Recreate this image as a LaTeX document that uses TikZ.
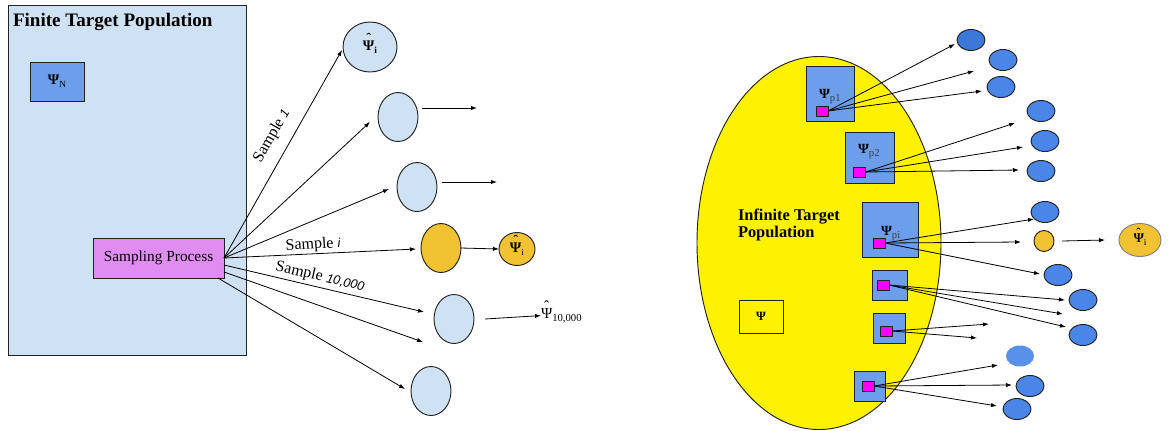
\documentclass[tikz,border=0pt]{standalone}
\usepackage{fontspec}
\setmainfont{Liberation Serif}
\newfontfamily\sansfam{Liberation Sans}
\usetikzlibrary{shapes.geometric,arrows.meta,calc}

\definecolor{paleblue}{HTML}{CFE2F3}
\definecolor{violetbox}{HTML}{E08CF1}
\definecolor{midblue}{HTML}{6D9EEB}
\definecolor{gold}{HTML}{F1C232}
\definecolor{dotblue}{HTML}{4A86E8}
\definecolor{dotblueD}{HTML}{3C78D8}
\definecolor{dotsoft}{HTML}{5990EA}
\definecolor{pink}{HTML}{FF00FF}
\definecolor{edge}{HTML}{222222}
\definecolor{subgray}{HTML}{404040}

% a symbol with a circumflex set above it
\newcommand\hatted[1]{\ooalign{#1\cr\hidewidth\raisebox{0.42em}{ˆ}\hidewidth\cr}}
% lowered small subscript text
\newcommand\subs[2][7]{\raisebox{-0.5ex}{\fontsize{#1}{#1}\selectfont #2}}
% "Sample" followed by an italic sans index
\newcommand\samp[1]{Sample\ {\sansfam\itshape\fontsize{9.5}{10}\selectfont #1}}

\tikzset{
  every node/.style={inner sep=0pt, outer sep=0pt},
  bd/.style={draw=edge, line width=0.7pt},
  arr/.style={-{Latex[length=4.5pt,width=3.2pt]}, line width=0.6pt, draw=black},
  paleell/.style={ellipse, bd, fill=paleblue, minimum width=30pt, minimum height=36.75pt},
  goldell/.style={ellipse, bd, fill=gold},
  dot/.style={ellipse, bd, fill=dotblue, minimum width=21pt, minimum height=15.75pt},
  sqbox/.style={rectangle, bd, fill=midblue},
  pinkbox/.style={rectangle, bd, fill=pink, minimum width=9pt, minimum height=7.5pt},
  samplab/.style={font=\fontsize{12}{14}\selectfont},
}

\begin{document}
\begin{tikzpicture}[x=0.75pt, y=-0.75pt]
\useasboundingbox (0,0) rectangle (1168,430);

% ---------------- finite population ----------------
\node[rectangle, bd, fill=paleblue, minimum width=178.5pt, minimum height=262.5pt, anchor=north west] (finite) at (8,5) {};
\node[anchor=base west, font=\bfseries\fontsize{14.3}{16}\selectfont] (ftitle) at (13,26) {Finite Target Population};
\node[sqbox, minimum width=40.5pt, minimum height=29.25pt, font=\fontsize{11}{13}\selectfont] (psiN) at (57,81.5) {{\bfseries Ψ}\subs{N}};
\node[rectangle, bd, fill=violetbox, minimum width=98.25pt, minimum height=30pt, font=\fontsize{11.5}{13}\selectfont] (sp) at (158.5,258) {Sampling Process};

% samples
\node[paleell, minimum width=40.5pt, minimum height=37.5pt, font=\fontsize{11}{13}\selectfont] (e1) at (370,47) {\hatted{\bfseries Ψ}\subs{\bfseries i}};
\node[paleell] (e2) at (398,117) {};
\node[paleell] (e3) at (417,187) {};
\node[goldell, minimum width=30pt, minimum height=36.75pt] (e4) at (441,248) {};
\node[goldell, minimum width=27pt, minimum height=24.75pt, font=\fontsize{11}{13}\selectfont] (e4est) at (517,249) {\hatted{\bfseries Ψ}\subs{i}};
\node[paleell] (e5) at (454,319) {};
\node[paleell] (e6) at (431,391) {};
\node[anchor=base west, font=\fontsize{11.5}{13}\selectfont] (e5est) at (541,318) {\hatted{Ψ}\subs[8]{10,000}};

% free ends of the sampling arrows
\coordinate (a1) at (342,50);
\coordinate (a2) at (370,122);
\coordinate (a3) at (389,189);
\coordinate (a4) at (416,249);
\coordinate (a5) at (424,312);
\coordinate (a6) at (423,342);
\coordinate (a7) at (405,389);
\coordinate (b2) at (477,108);
\coordinate (b3) at (497,182);

\draw[arr] (sp.east) -- (a1);
\draw[arr] (sp.east) -- (a2);
\draw[arr] (sp.east) -- (a3);
\draw[arr] (sp.east) -- (a4);
\draw[arr] ($(sp.east)+(0,7)$) -- (a5);
\draw[arr] ($(sp.east)+(0,14)$) -- (a6);
\draw[arr] ($(sp.south east)+(-6,0)$) -- (a7);

\draw[arr] ($(e2.east)+(4,-9)$) -- (b2);
\draw[arr] ($(e3.east)+(5,-5)$) -- (b3);
\draw[arr] (e4.east) -- (e4est.west);
\draw[arr] ($(e5.east)+(11,0)$) -- (e5est.west);

\node[samplab, rotate=60.4] (lab1) at (272,136) {\samp{1}};
\node[samplab, rotate=3.5] (labi) at (313,245) {\samp{i}};
\node[samplab, rotate=-13] (labn) at (320,277) {\samp{10,000}};

% ---------------- infinite population ----------------
\node[ellipse, bd, fill=yellow, minimum width=183pt, minimum height=279.75pt] (inf) at (819,243) {};
\node[anchor=base west, font=\bfseries\fontsize{12.3}{14}\selectfont] (itl1) at (738,220) {Infinite Target};
\node[anchor=base west, font=\bfseries\fontsize{12.3}{14}\selectfont] (itl2) at (738,237) {Population};
\node[rectangle, bd, fill=yellow, minimum width=33pt, minimum height=24.75pt, font=\fontsize{9.5}{11}\selectfont] (psi) at (761,316.5) {\bfseries Ψ};

\node[sqbox, minimum width=36pt, minimum height=41.25pt] (q1) at (830,93.5) {};
\node[sqbox, minimum width=36.75pt, minimum height=38.25pt] (q2) at (869.5,157.5) {};
\node[sqbox, minimum width=42pt, minimum height=41.25pt] (q3) at (890,229.5) {};
\node[sqbox, minimum width=26.25pt, minimum height=22.5pt] (q4) at (889.5,285) {};
\node[sqbox, minimum width=24pt, minimum height=22.5pt] (q5) at (889,328) {};
\node[sqbox, minimum width=23.25pt, minimum height=22.5pt] (q6) at (869.5,386) {};

\node[anchor=base west, font=\fontsize{10.5}{12}\selectfont] (lp1) at (819,98) {{\bfseries Ψ}\textcolor{subgray}{\subs[8]{p1}}};
\node[anchor=base west, font=\fontsize{10.5}{12}\selectfont] (lp2) at (858,153) {{\bfseries Ψ}\textcolor{subgray}{\subs[8]{p2}}};
\node[anchor=base west, font=\fontsize{10.5}{12}\selectfont] (lpi) at (881,235) {{\bfseries Ψ}\textcolor{subgray}{\subs[8]{pi}}};

\node[pinkbox] (m1) at (822,111) {};
\node[pinkbox] (m2) at (859.5,172) {};
\node[pinkbox] (m3) at (879,243) {};
\node[pinkbox] (m4) at (883,285) {};
\node[pinkbox] (m5) at (886,331) {};
\node[pinkbox] (m6) at (868,386) {};

% sampled units
\node[dot, fill=dotblueD] (d1) at (971,40) {};
\node[dot] (d2) at (1003,60) {};
\node[dot] (d3) at (1001,87) {};
\node[dot] (d4) at (1041,111) {};
\node[dot] (d5) at (1045,141) {};
\node[dot] (d6) at (1041,171) {};
\node[dot] (d7) at (1045,212) {};
\node[goldell, minimum width=15pt, minimum height=15.75pt] (ds) at (1044,241) {};
\node[goldell, draw=gray, minimum width=31.5pt, minimum height=24.75pt, font=\fontsize{10}{12}\selectfont] (dsest) at (1140,240) {\hatted{\bfseries Ψ}\subs{i}};
\node[dot] (d8) at (1058,275) {};
\node[dot] (d9) at (1083,300) {};
\node[dot] (d10) at (1083,335) {};
\node[ellipse, fill=dotsoft, minimum width=21pt, minimum height=15.75pt] (d11) at (1020,356) {};
\node[dot] (d12) at (1030,386) {};
\node[dot] (d13) at (1017,409) {};

% free ends of the draws
\coordinate (r11) at (955,44);
\coordinate (r12) at (974,71);
\coordinate (r13) at (982,91);
\coordinate (r21) at (1015,123);
\coordinate (r22) at (1023,147);
\coordinate (r23) at (1019,170);
\coordinate (r31) at (1034,219);
\coordinate (r32) at (1021,242);
\coordinate (r33) at (1040,274);
\coordinate (r41) at (1065,300);
\coordinate (r42) at (1063,314);
\coordinate (r43) at (1066,327);
\coordinate (r51) at (989,324);
\coordinate (r52) at (977,338);
\coordinate (r61) at (998,365);
\coordinate (r62) at (1012,385);
\coordinate (r63) at (997,406);

\foreach \m/\r in {m1/r11,m1/r12,m1/r13,m2/r21,m2/r22,m2/r23,m3/r31,m3/r32,m3/r33,
                   m4/r41,m4/r42,m4/r43,m5/r51,m5/r52,m6/r61,m6/r62,m6/r63}
  \draw[arr] (\m.east) -- (\r);
\draw[arr] ($(ds.east)+(8,0)$) -- ($(dsest.west)+(-14,0)$);
\end{tikzpicture}
\end{document}
